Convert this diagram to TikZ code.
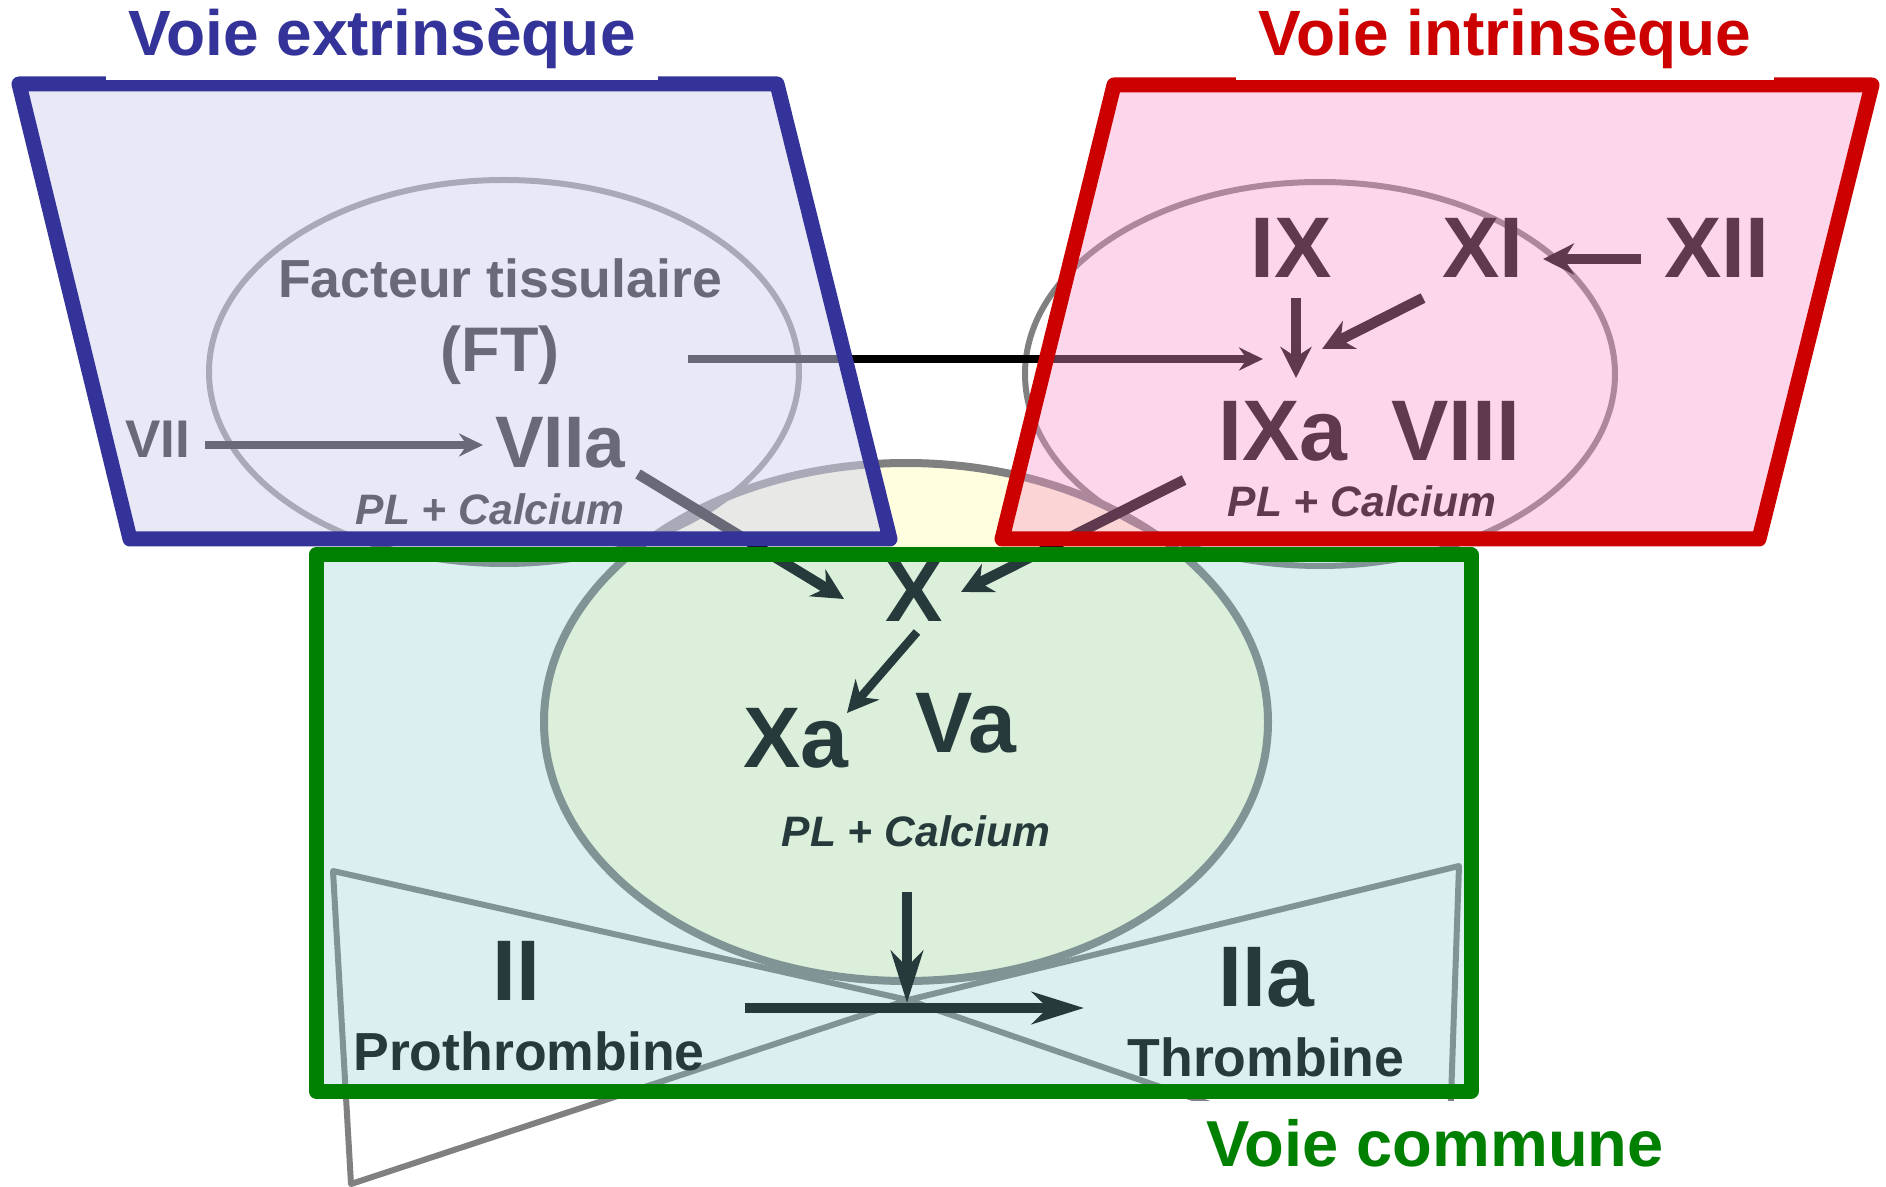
\documentclass[tikz,border=0pt]{standalone}
\usepackage{xcolor}
\usepackage{fontspec}
\setmainfont{Liberation Sans}
\usepackage{tikz}
\usetikzlibrary{arrows.meta}
\definecolor{extblue}{RGB}{51,51,153}
\definecolor{intred}{RGB}{204,0,0}
\definecolor{comgreen}{RGB}{0,128,0}
\definecolor{extveil}{RGB}{210,210,238}
\definecolor{intveil}{RGB}{246,149,200}
\definecolor{comveil}{RGB}{131,200,207}
\definecolor{coreyellow}{RGB}{255,255,224}
\definecolor{rimgray}{RGB}{128,128,128}

\begin{document}
\begin{tikzpicture}[
  x=0.5pt, y=-0.5pt,
  every node/.style={inner sep=0pt, anchor=base},
  titlebox/.style={font=\bfseries\fontsize{32}{38}\selectfont, fill=white, inner xsep=11pt, inner ysep=5.5pt},
  bigtxt/.style={font=\bfseries\fontsize{43}{50}\selectfont},
  midtxt/.style={font=\bfseries\fontsize{26.8}{32}\selectfont},
  calctxt/.style={font=\bfseries\itshape\fontsize{21.3}{26}\selectfont},
  rim/.style={draw=rimgray, line width=3pt},
  thickarr/.style={line width=5.25pt, -{Stealth[length=15.5pt, width=15.5pt, inset=5pt]}},
  thinarr/.style={line width=3.75pt, -{Stealth[length=12pt, width=11.5pt, inset=4pt]}},
  longarr/.style={line width=5.25pt, -{Stealth[length=26pt, width=16pt, inset=8pt]}},
  frame/.style={line width=7.5pt, line join=round}
]
\useasboundingbox (0,0) rectangle (1886,1187);

% hourglass behind the common pathway
\draw[rim, line join=round] (333,871) -- (908,1000) -- (351,1184) -- cycle;
\draw[rim, line join=round] (1459,866) -- (908,1000) -- (1448,1186) -- cycle;

% complexes
\draw[rim, line width=4pt, fill=coreyellow] (906,722) ellipse [x radius=362, y radius=259];
\draw[rim] (504,372) ellipse [x radius=295, y radius=192];
\draw[rim] (1320,374) ellipse [x radius=295, y radius=192];

% extrinsic
\node[midtxt] (fact) at (500,298) {Facteur tissulaire};
\node[font=\bfseries\fontsize{31.5}{36}\selectfont] (ft) at (500,372) {(FT)};
\node[font=\bfseries\fontsize{26.5}{30}\selectfont] (vii) at (158,458) {VII};
\node[font=\bfseries\fontsize{36.5}{42}\selectfont] (viia) at (560,468) {VIIa};
\node[calctxt] (plext) at (490,525) {PL + Calcium};

% intrinsic
\node[bigtxt] (ix) at (1291,278) {IX};
\node[bigtxt] (xi) at (1483,278) {XI};
\node[bigtxt] (xii) at (1717,278) {XII};
\node[bigtxt] (ixa) at (1283,461) {IXa};
\node[bigtxt] (viii) at (1456,461) {VIII};
\node[calctxt] (plint) at (1362,517) {PL + Calcium};

% common
\node[bigtxt] (x) at (914,622) {X};
\node[bigtxt] (xa) at (796,767) {Xa};
\node[bigtxt] (va) at (966,752) {Va};
\node[calctxt] (plcom) at (916,846) {PL + Calcium};
\node[bigtxt] (ii) at (516,1000) {II};
\node[bigtxt] (iia) at (1266,1006) {IIa};
\node[midtxt] (prot) at (529,1070) {Prothrombine};
\node[midtxt] (throm) at (1266,1076) {Thrombine};

% arrow ends
\coordinate (viiout) at (205,445);
\coordinate (viiain) at (483,445);
\coordinate (ftout) at (688,359);
\coordinate (ixain) at (1263,359);
\coordinate (ixout) at (1296,298);
\coordinate (ixatop) at (1296,378);
\coordinate (xiout) at (1423,298);
\coordinate (ixaright) at (1322,349);
\coordinate (xiiout) at (1641,259);
\coordinate (xiin) at (1543,259);
\coordinate (viiaout) at (638,474);
\coordinate (xleft) at (844,599);
\coordinate (ixaout) at (1184,480);
\coordinate (xright) at (961,592);
\coordinate (xout) at (917,632);
\coordinate (xain) at (847,713);
\coordinate (cplxout) at (907,892);
\coordinate (cut) at (907,1003);
\coordinate (iiout) at (745,1008);
\coordinate (iiain) at (1084,1008);

\draw[thinarr] (viiout) -- (viiain);
\draw[thinarr] (ftout) -- (ixain);
\draw[thickarr] (ixout) -- (ixatop);
\draw[thickarr] (xiout) -- (ixaright);
\draw[thickarr] (xiiout) -- (xiin);
\draw[thickarr] (viiaout) -- (xleft);
\draw[thickarr] (ixaout) -- (xright);
\draw[thickarr, line width=4.25pt] (xout) -- (xain);
\draw[longarr] (cplxout) -- (cut);
\draw[longarr] (iiout) -- (iiain);

% pathway frames
\draw[frame, draw=extblue, fill=extveil, fill opacity=0.5] (19,84) -- (777,84) -- (890,539) -- (130,539) -- cycle;
\draw[frame, draw=intred, fill=intveil, fill opacity=0.39] (1114,85) -- (1872,85) -- (1759,539) -- (1002,539) -- cycle;
\draw[frame, draw=comgreen, fill=comveil, fill opacity=0.29] (316,555) rectangle (1471,1091);

% titles
\node[titlebox, text=extblue] (exttitle) at (382,56) {Voie extrinsèque};
\node[titlebox, text=intred] (inttitle) at (1505,56) {Voie intrinsèque};
\node[titlebox, text=comgreen, font=\bfseries\fontsize{32.5}{38}\selectfont, inner ysep=9pt, text depth=5pt] (comtitle) at (1435,1166) {Voie commune};
\end{tikzpicture}
\end{document}
